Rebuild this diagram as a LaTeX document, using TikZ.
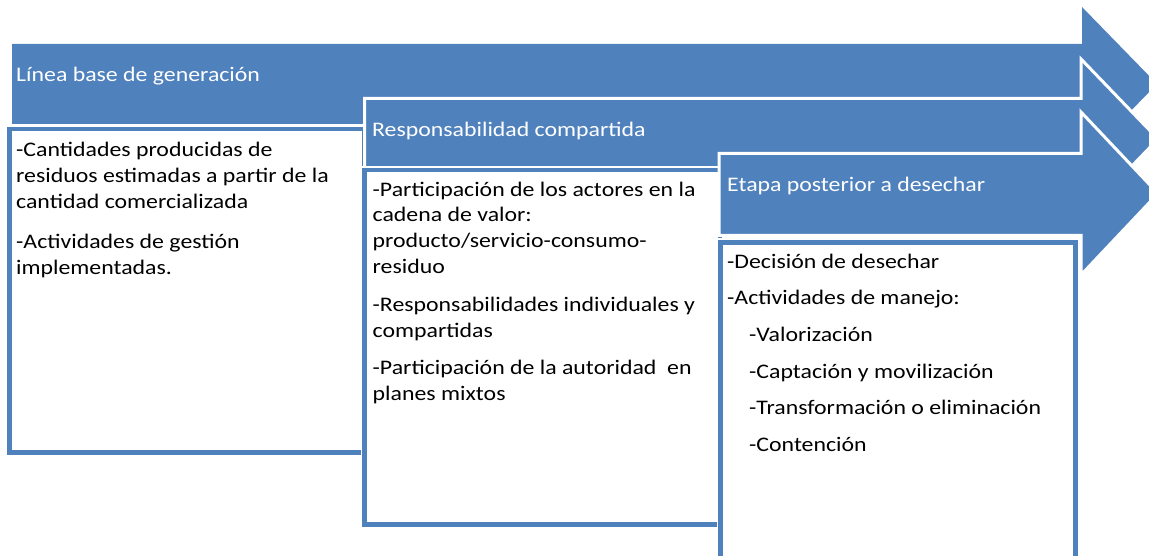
\documentclass[tikz,border=0pt]{standalone}
\usepackage{fontspec}
\setmainfont{Carlito}[FakeStretch=1.15]
\definecolor{arrowblue}{HTML}{4F81BD}
\tikzset{
  arrowshape/.style={fill=arrowblue, draw=white, line width=3pt, line join=miter},
  boxback/.style={fill=white, draw=white, line width=8pt},
  boxline/.style={draw=arrowblue, line width=4.5pt},
  titletext/.style={anchor=base west, inner sep=0pt, text=white, font=\fontsize{20.7}{25.5}\selectfont},
  bodytext/.style={anchor=north west, inner sep=0pt, align=left, text=black},
}
\begin{document}
\begin{tikzpicture}[x=1pt,y=-1pt]
\useasboundingbox (0,0) rectangle (1149,556);
\clip (0,0) rectangle (1149,556);
% arrow 1
\fill[arrowblue] (12,44) -- (1082,44) -- (1082,7) -- (1157,84) -- (1082,161) -- (1082,124) -- (12,124) -- cycle;
% box 1
\draw[boxback] (9.5,129) rectangle (364,452.5);
\draw[boxline] (9.5,129) rectangle (364,452.5);
% arrow 2
\draw[arrowshape] (364.5,98.5) -- (1081,98.5) -- (1081,59) -- (1158,139) -- (1081,219) -- (1081,180) -- (364.5,180) -- cycle;
% box 2
\draw[boxback] (364.5,170) rectangle (720,524.5);
\draw[boxline] (364.5,170) rectangle (720,524.5);
% arrow 3
\draw[arrowshape] (719,153.5) -- (1081,153.5) -- (1081,112) -- (1158,193.5) -- (1081,275) -- (1081,235.5) -- (719,235.5) -- cycle;
% box 3
\draw[boxback] (720.5,242.5) rectangle (1075.5,620);
\draw[boxline] (720.5,242.5) rectangle (1075.5,620);
% titles
\node[titletext] (t1) at (16,81.7) {Línea base de generación};
\node[titletext] (t2) at (372,136.7) {Responsabilidad compartida};
\node[titletext] (t3) at (727,191.7) {Etapa posterior a desechar};
% body texts
\node[bodytext, font=\fontsize{20.7}{25.8}\selectfont] (b1) at (16,138.6)
  {\strut-Cantidades producidas de\\ residuos estimadas a partir de la\\ cantidad comercializada\\[14.2pt] -Actividades de gestión\\ implementadas.};
\node[bodytext, font=\fontsize{20.7}{25.7}\selectfont] (b2) at (372.5,178)
  {\strut-Participación de los actores en la\\ cadena de valor:\\ producto/servicio-consumo-\\ residuo\\[13pt] -Responsabilidades individuales y\\ compartidas\\[11.5pt] -Participación de la autoridad\ \ en\\ planes mixtos};
\node[bodytext, font=\fontsize{20.7}{36.6}\selectfont] (b3) at (727,242.4)
  {\strut-Decisión de desechar\\ -Actividades de manejo:\\ \hspace*{22pt}-Valorización\\ \hspace*{22pt}-Captación y movilización\\ \hspace*{22pt}-Transformación o eliminación\\ \hspace*{22pt}-Contención};
\end{tikzpicture}
\end{document}
